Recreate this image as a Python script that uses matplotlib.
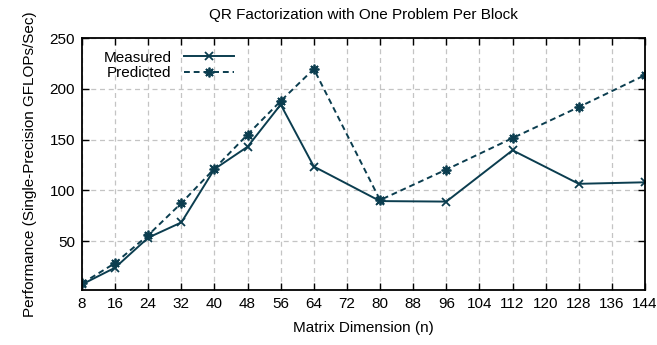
import matplotlib
matplotlib.use("Agg")
import matplotlib.pyplot as plt

plt.rcParams["font.family"] = ["Liberation Sans", "DejaVu Sans"]

# data
sizes = [8, 16, 24, 32, 40, 48, 56, 64, 80, 96, 112, 128, 144]
measured = [7.5, 24, 53.5, 68.5, 121, 143, 184.5, 123.5, 89.5, 89, 139.5, 106.5, 108]
predicted = [8.5, 28.5, 56, 87.5, 121.5, 155, 188, 219.5, 90.5, 120.5, 151.5, 182, 213.5]
x_ticks = list(range(8, 145, 8))
y_ticks = [50, 100, 150, 200, 250]

color = "#0b3d4f"

fig = plt.figure(figsize=(6.57, 3.45), dpi=100)
ax = fig.add_axes([82 / 657, 1 - 290 / 345, (645 - 82) / 657, (290 - 38) / 345])

ax.plot(sizes, measured, color=color, lw=1.4, marker="x", ms=6, mew=1.3,
        label="Measured")
ax.plot(sizes, predicted, color=color, lw=1.4, ls=(0, (3, 2)), marker=(8, 2, 0),
        ms=7, mew=1.3, label="Predicted")

ax.set_xlim(8, 144)
ax.set_ylim(2, 250)
ax.set_xticks(x_ticks)
ax.set_yticks(y_ticks)
ax.tick_params(direction="in", top=True, right=True, labelsize=11, length=5,
               width=1, pad=5)
ax.grid(True, color="#c4c4c4", ls=(0, (4, 3)), lw=0.9)
for s in ax.spines.values():
    s.set_linewidth(1.3)

ax.set_xlabel("Matrix Dimension (n)", fontsize=11, labelpad=7)
ax.set_ylabel("Performance (Single-Precision GFLOPs/Sec)", fontsize=11, labelpad=9)
ax.set_title("QR Factorization with One Problem Per Block", fontsize=11, pad=14)

leg = ax.legend(loc="upper left", frameon=False, markerfirst=False, fontsize=11,
                handlelength=3.3, borderaxespad=0.1, labelspacing=0.1,
                bbox_to_anchor=(0.025, 0.98))
for t in leg.get_texts():
    t.set_ha("right")

fig.savefig("out.png", dpi=100)
